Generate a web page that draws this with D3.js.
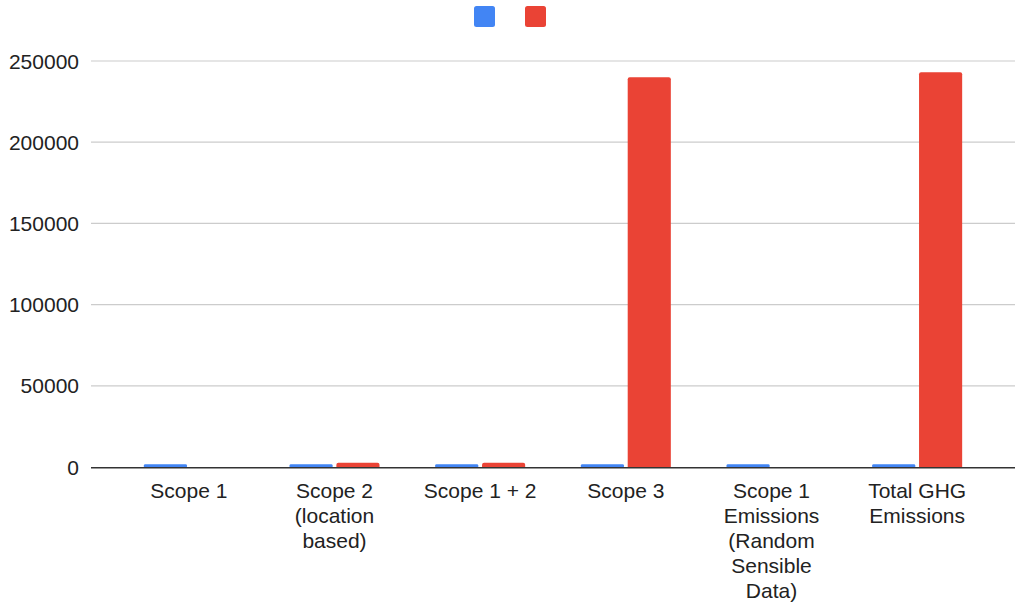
<!DOCTYPE html>
<html>
<head>
<meta charset="utf-8">
<script src="https://cdn.jsdelivr.net/npm/d3@7"></script>
<style>
  html, body { margin: 0; padding: 0; background: #fff; }
  svg { display: block; font-family: "Liberation Sans", Arial, sans-serif; }
</style>
</head>
<body>
<svg id="chart" width="1016" height="606"></svg>
<script>
const categories = [
  "Scope 1",
  "Scope 2\n(location\nbased)",
  "Scope 1 + 2",
  "Scope 3",
  "Scope 1\nEmissions\n(Random\nSensible\nData)",
  "Total GHG\nEmissions"
];
const seriesNames = ["", ""];
const seriesA = [1700, 1700, 1700, 1700, 1700, 1700];
const seriesB = [0, 2600, 2600, 240000, 0, 243000];
const yTicks = [0, 50000, 100000, 150000, 200000, 250000];
const colors = ["#4285F4", "#EA4335"];

const svg = d3.select("#chart");
const gridLeft = 91, gridRight = 1015;
const plotTop = 61, plotBottom = 467;

const y = d3.scaleLinear().domain([0, 250000]).range([plotBottom, plotTop]);
const x0 = d3.scaleBand().domain(categories).range([116, 990]).padding(0);
const step = x0.bandwidth();
const groupW = 90;
const x1 = d3.scaleBand().domain([0, 1])
  .range([(step - groupW) / 2, (step + groupW) / 2])
  .paddingInner(0.08).paddingOuter(0);

// gridlines
svg.append("g").selectAll("line").data(yTicks.filter(d => d !== 0)).join("line")
  .attr("x1", gridLeft).attr("x2", gridRight)
  .attr("y1", d => y(d)).attr("y2", d => y(d))
  .attr("stroke", "#cccccc").attr("stroke-width", 1.2);

// y labels
svg.append("g").selectAll("text").data(yTicks).join("text")
  .attr("x", 79).attr("y", d => y(d)).attr("dy", "0.36em")
  .attr("text-anchor", "end").attr("font-size", 21).attr("fill", "#222")
  .text(d => d);

// bars
function barPath(xl, w, yt, yb) {
  const h = yb - yt;
  if (h <= 0) return "";
  const r = Math.min(2, h / 2, w / 2);
  return `M${xl},${yb}V${yt + r}Q${xl},${yt} ${xl + r},${yt}H${xl + w - r}Q${xl + w},${yt} ${xl + w},${yt + r}V${yb}Z`;
}
const series = [seriesA, seriesB];
const gBars = svg.append("g");
categories.forEach((c, i) => {
  series.forEach((s, j) => {
    const xl = x0(c) + x1(j);
    gBars.append("path")
      .attr("d", barPath(xl, x1.bandwidth(), y(s[i]), y(0)))
      .attr("fill", colors[j]);
  });
});

// baseline
svg.append("line")
  .attr("x1", gridLeft).attr("x2", gridRight)
  .attr("y1", y(0) + 0.7).attr("y2", y(0) + 0.7)
  .attr("stroke", "#333").attr("stroke-width", 1.4);

// x labels
const gx = svg.append("g");
categories.forEach(c => {
  const t = gx.append("text")
    .attr("x", x0(c) + step / 2).attr("y", 498)
    .attr("text-anchor", "middle").attr("font-size", 21).attr("fill", "#222");
  c.split("\n").forEach((line, k) => {
    t.append("tspan").attr("x", x0(c) + step / 2).attr("y", 498 + k * 25).text(line);
  });
});

// legend
const legend = svg.append("g");
const legX = [474, 525];
seriesNames.forEach((n, j) => {
  legend.append("rect")
    .attr("x", legX[j]).attr("y", 6).attr("width", 21).attr("height", 21)
    .attr("rx", 2.5).attr("fill", colors[j]);
  legend.append("text").attr("x", legX[j] + 27).attr("y", 22)
    .attr("font-size", 18).attr("fill", "#222").text(n);
});
</script>
</body>
</html>
